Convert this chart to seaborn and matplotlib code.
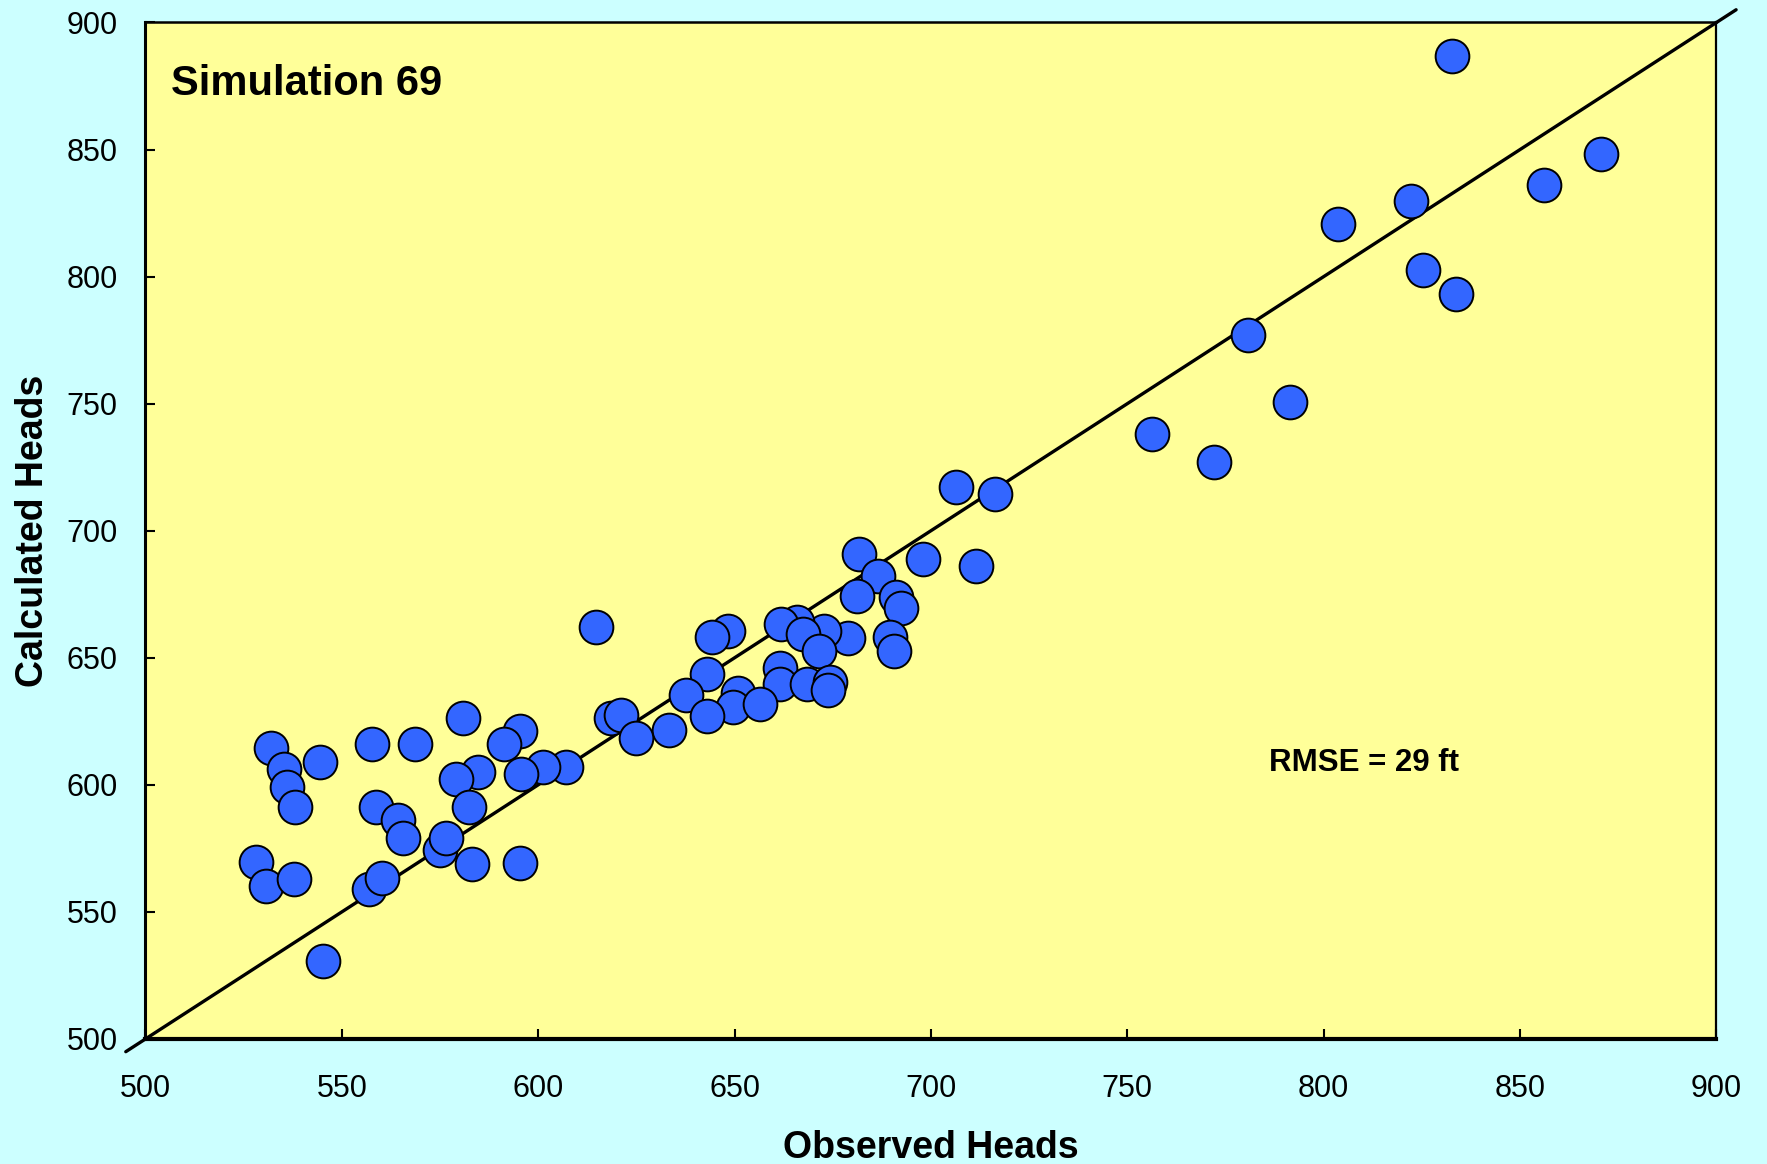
import numpy as np
import pandas as pd
import seaborn as sns
import matplotlib
matplotlib.use("Agg")
import matplotlib.pyplot as plt

# observed vs calculated heads (ft)
observed = [
    832.6, 870.7, 856.1, 803.6, 822.2, 825.4, 833.7, 780.6, 791.5, 756.2,
    772.0, 706.3, 716.4, 711.5, 698.0, 681.6, 686.5, 681.3, 691.1, 692.5,
    689.7, 690.5, 678.8, 672.7, 665.9, 661.8, 667.3, 671.6, 661.5, 661.5,
    668.4, 674.2, 673.9, 648.4, 644.3, 642.9, 637.7, 650.9, 649.5, 656.4,
    642.9, 633.4, 614.8, 618.5, 621.1, 624.8, 607.0, 601.3, 595.6, 595.3,
    591.3, 584.7, 579.2, 580.9, 582.4, 568.6, 557.7, 558.8, 564.3, 565.7,
    574.9, 576.6, 583.2, 595.3, 556.8, 560.3, 545.3, 544.5, 531.9, 535.3,
    536.0, 538.2, 528.1, 530.7, 537.9,
]
calculated = [
    886.7, 848.1, 836.1, 820.6, 829.9, 802.4, 793.1, 777.2, 750.6, 738.1,
    727.1, 717.3, 714.6, 686.3, 688.9, 690.7, 682.3, 674.3, 673.8, 669.4,
    658.3, 652.5, 657.9, 660.5, 664.1, 663.2, 659.2, 652.5, 645.9, 639.7,
    639.7, 640.6, 637.5, 660.5, 658.3, 643.7, 635.3, 636.1, 630.8, 631.7,
    627.0, 621.5, 662.3, 626.4, 627.3, 618.4, 606.9, 606.9, 604.2, 621.1,
    616.2, 605.1, 602.4, 626.4, 591.4, 616.2, 616.2, 591.4, 586.0, 578.9,
    574.5, 578.9, 568.7, 569.2, 559.0, 563.4, 530.6, 609.1, 614.4, 606.4,
    599.3, 591.4, 569.6, 560.3, 563.0,
]
axis_ticks = [500, 550, 600, 650, 700, 750, 800, 850, 900]
title_text = "Simulation 69"
rmse_text = "RMSE = 29 ft"

df = pd.DataFrame({"Observed Heads": observed, "Calculated Heads": calculated})

sns.set_style("ticks")
plt.rcParams["font.family"] = ["Liberation Sans", "DejaVu Sans"]
plt.rcParams["text.color"] = "black"
plt.rcParams["axes.labelcolor"] = "black"

fig = plt.figure(figsize=(17.67, 11.64), dpi=100, facecolor="#CCFFFF")
ax = fig.add_axes([0.0823, 0.1074, 0.8891, 0.8733])
ax.set_facecolor("#FFFF99")

# 1:1 line, runs a little past the frame like the original
ax.plot([495, 905], [495, 905], color="black", lw=2.4, clip_on=False, zorder=2)

sns.scatterplot(data=df, x="Observed Heads", y="Calculated Heads", ax=ax,
                s=590, color="#3366FF", edgecolor="black", linewidth=1.4,
                zorder=3, clip_on=False)

ax.set_xlim(500, 900)
ax.set_ylim(500, 900)
ax.set_xticks(axis_ticks)
ax.set_yticks(axis_ticks)
ax.tick_params(direction="in", length=7, width=1.5, labelsize=22, colors="black")
ax.tick_params(axis="x", pad=25)
ax.tick_params(axis="y", pad=20)

for side, lw in {"left": 2.2, "bottom": 3.0, "top": 1.8, "right": 1.6}.items():
    ax.spines[side].set_linewidth(lw)
    ax.spines[side].set_color("black")

ax.set_xlabel("Observed Heads", fontsize=27, fontweight="bold")
ax.set_ylabel("Calculated Heads", fontsize=27, fontweight="bold")
ax.xaxis.set_label_coords(0.5, -0.0895)
ax.yaxis.set_label_coords(-0.06, 0.5)

ax.text(506.6, 871.6, title_text, fontsize=30, fontweight="bold", va="baseline")
ax.text(786.1, 605.5, rmse_text, fontsize=22.5, fontweight="bold", va="baseline")

fig.savefig("out.png", dpi=100, facecolor=fig.get_facecolor())
